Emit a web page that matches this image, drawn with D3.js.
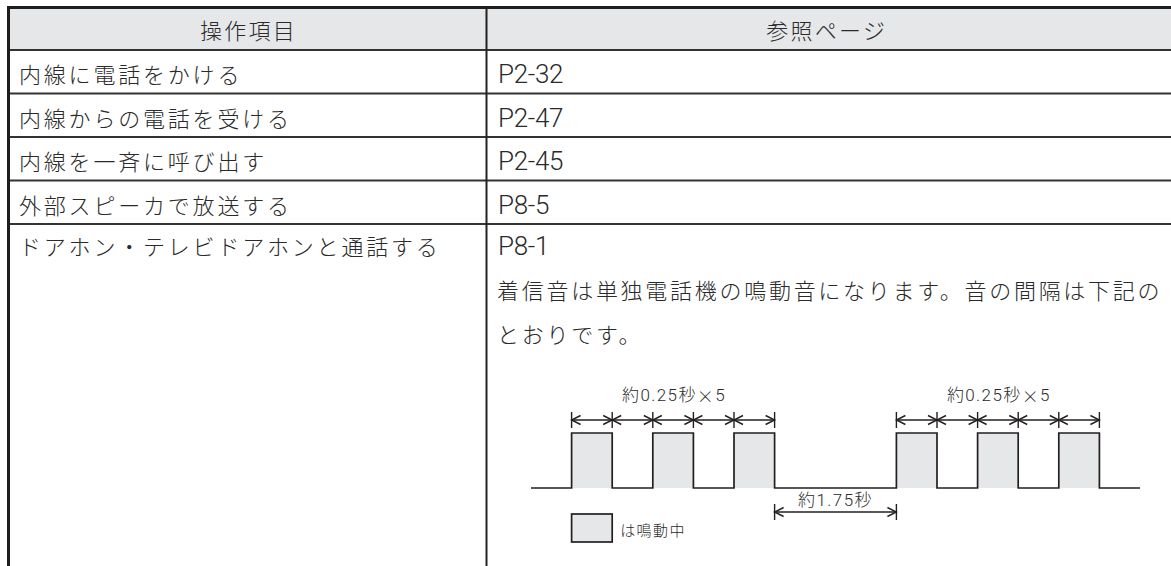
<!DOCTYPE html>
<html><head><meta charset="utf-8">
<script src="https://cdn.jsdelivr.net/npm/d3@7"></script>
<style>
html,body{margin:0;padding:0;background:#fff;}
svg{display:block;}
text,tspan.cjk{font-family:"Noto Sans CJK JP Light","Noto Sans CJK JP",sans-serif;font-weight:300;fill:#2a2a2a;}
text.lat{font-family:"Roboto","Noto Sans CJK JP Light","Noto Sans CJK JP",sans-serif;font-weight:300;}
</style></head>
<body><svg id="c" width="1171" height="566"></svg>
<script>
// ---- data ----
const headers = ["操作項目", "参照ページ"];
const items = ["内線に電話をかける", "内線からの電話を受ける", "内線を一斉に呼び出す", "外部スピーカで放送する", "ドアホン・テレビドアホンと通話する"];
const pages = ["P2-32", "P2-47", "P2-45", "P8-5", "P8-1"];
const noteLines = ["着信音は単独電話機の鳴動音になります。音の間隔は下記の", "とおりです。"];
// ring pattern in 0.25 s units: 1 = ringing, 0 = silent
const ringPattern = [1, 0, 1, 0, 1, 0, 0, 0, 1, 0, 1, 0, 1];
const unitSeconds = 0.25;
const groupLabels = ["約0.25秒×5", "約0.25秒×5"];
const gapLabel = "約1.75秒";
const legendLabel = "は鳴動中";

// ---- drawing ----
const svg = d3.select("#c");
const W = 1171, H = 566;
const lineCol = "#333";
const fillCol = "#e6e7e9";
const ink = "#231f20";

const x0 = 8.5, colX = 486.5, topY = 7.5, headBot = 50;
const rowY = d3.scaleBand().domain(d3.range(items.length)).range([headBot, headBot + 43.5 * items.length]);

// header background
svg.append("rect").attr("x", x0).attr("y", topY).attr("width", W - x0).attr("height", headBot - topY).attr("fill", fillCol);

// header texts
svg.append("text").attr("x", (x0 + colX) / 2 + 1).attr("y", (topY + headBot) / 2)
  .attr("text-anchor", "middle").attr("dominant-baseline", "central")
  .style("font-size", "22px").style("letter-spacing", "2.3px").text(headers[0]);
svg.append("text").attr("x", (colX + W) / 2 - 2).attr("y", (topY + headBot) / 2)
  .attr("text-anchor", "middle").attr("dominant-baseline", "central")
  .style("font-size", "22px").style("letter-spacing", "2.3px").text(headers[1]);

// row lines
const rowLines = d3.range(items.length - 1).map(i => rowY(i) + rowY.bandwidth());
svg.selectAll("line.row").data(rowLines).join("line")
  .attr("x1", x0).attr("x2", W).attr("y1", d => d).attr("y2", d => d)
  .attr("stroke", lineCol).attr("stroke-width", 2);
svg.append("line").attr("x1", x0).attr("x2", W).attr("y1", headBot).attr("y2", headBot)
  .attr("stroke", lineCol).attr("stroke-width", 2);
// column divider
svg.append("line").attr("x1", colX).attr("x2", colX).attr("y1", topY).attr("y2", H)
  .attr("stroke", "#222").attr("stroke-width", 2);
// outer top & left
svg.append("line").attr("x1", x0 - 1.5).attr("x2", W).attr("y1", topY).attr("y2", topY)
  .attr("stroke", "#1e1e1e").attr("stroke-width", 3);
svg.append("line").attr("x1", x0).attr("x2", x0).attr("y1", topY).attr("y2", H)
  .attr("stroke", "#1e1e1e").attr("stroke-width", 3);

// row texts
const rowTextY = i => rowY(i) + (i === items.length - 1 ? 21 : rowY.bandwidth() / 2 + 1.5);
svg.selectAll("text.item").data(items).join("text").attr("class", "item")
  .attr("x", 19).attr("y", (d, i) => rowTextY(i))
  .attr("dominant-baseline", "central")
  .style("font-size", "22px").style("letter-spacing", "2.8px").text(d => d);
svg.selectAll("text.page").data(pages).join("text").attr("class", "page lat")
  .attr("x", 498).attr("y", (d, i) => rowTextY(i) + 1)
  .attr("dominant-baseline", "central")
  .style("font-size", "26px").style("letter-spacing", "-0.3px").text(d => d);
svg.selectAll("text.note").data(noteLines).join("text").attr("class", "note")
  .attr("x", 497).attr("y", (d, i) => rowTextY(items.length - 1) + 44 * (i + 1))
  .attr("dominant-baseline", "central")
  .style("font-size", "22px").style("letter-spacing", "2.72px").text(d => d);

// ---- ring timing diagram ----
const nUnits = ringPattern.length;
const x = d3.scaleLinear().domain([-1, nUnits + 1]).range([531, 1140]);
const yLevel = d3.scaleLinear().domain([0, 1]).range([488, 433]);

// pulses fill
svg.selectAll("rect.pulse").data(ringPattern.map((v, i) => ({v, i})).filter(d => d.v === 1)).join("rect")
  .attr("x", d => x(d.i)).attr("y", yLevel(1)).attr("width", d => x(d.i + 1) - x(d.i))
  .attr("height", yLevel(0) - yLevel(1)).attr("fill", fillCol);

// waveform line (step)
const pts = [[-1, 0]].concat(ringPattern.map((v, i) => [i, v]), [[nUnits, 0], [nUnits + 1, 0]]);
svg.append("path").attr("d", d3.line().x(d => x(d[0])).y(d => yLevel(d[1])).curve(d3.curveStepAfter)(pts))
  .attr("fill", "none").attr("stroke", ink).attr("stroke-width", 1.7);

function arrowHead(xTip, y, dir) {
  const L = 9, h = 4.5;
  svg.append("path").attr("d", `M${xTip + dir * L},${y - h} L${xTip},${y} L${xTip + dir * L},${y + h}`)
    .attr("fill", "none").attr("stroke", ink).attr("stroke-width", 1.4);
}
function dimension(u0, u1, y) {
  svg.append("line").attr("x1", x(u0)).attr("x2", x(u1)).attr("y1", y).attr("y2", y)
    .attr("stroke", ink).attr("stroke-width", 1.4);
  arrowHead(x(u0), y, 1);
  arrowHead(x(u1), y, -1);
}
function tick(u, y) {
  svg.append("line").attr("x1", x(u)).attr("x2", x(u)).attr("y1", y - 8).attr("y2", y + 8)
    .attr("stroke", ink).attr("stroke-width", 1.4);
}
function label(cx, cy, t) {
  const el = svg.append("text").attr("class", "lat").attr("x", cx).attr("y", cy)
    .attr("text-anchor", "middle").attr("dominant-baseline", "central")
    .style("font-size", "17px").style("letter-spacing", "1.4px");
  // split so that the multiplication sign uses the CJK (full-size) glyph
  t.split(/(×)/).filter(s => s.length).forEach(s => {
    const sp = el.append("tspan").text(s);
    if (s === "×") sp.attr("class", "cjk");
  });
}

// identify ringing groups (rings separated by single silent units)
const groups = [];
let gs = null, last = null;
ringPattern.forEach((v, i) => {
  if (v === 1) {
    if (gs === null) gs = i;
    else if (i - last > 2) { groups.push([gs, last + 1]); gs = i; }
    last = i;
  }
});
groups.push([gs, last + 1]);

const dimY = 420;
groups.forEach((g, gi) => {
  for (let u = g[0]; u < g[1]; u++) dimension(u, u + 1, dimY);
  for (let u = g[0]; u <= g[1]; u++) tick(u, dimY);
  label((x(g[0]) + x(g[1])) / 2 + 1, 395, groupLabels[gi]);
});
// gap dimension
const gapY = 512;
dimension(groups[0][1], groups[1][0], gapY);
tick(groups[0][1], gapY); tick(groups[1][0], gapY);
label((x(groups[0][1]) + x(groups[1][0])) / 2, 500, gapLabel);

// legend
svg.append("rect").attr("x", x(0)).attr("y", 514).attr("width", x(1) - x(0)).attr("height", 28)
  .attr("fill", fillCol).attr("stroke", ink).attr("stroke-width", 1.7);
svg.append("text").attr("x", x(1) + 8).attr("y", 529).attr("dominant-baseline", "central")
  .style("font-size", "15px").style("letter-spacing", "1.4px").text(legendLabel);
</script></body></html>
